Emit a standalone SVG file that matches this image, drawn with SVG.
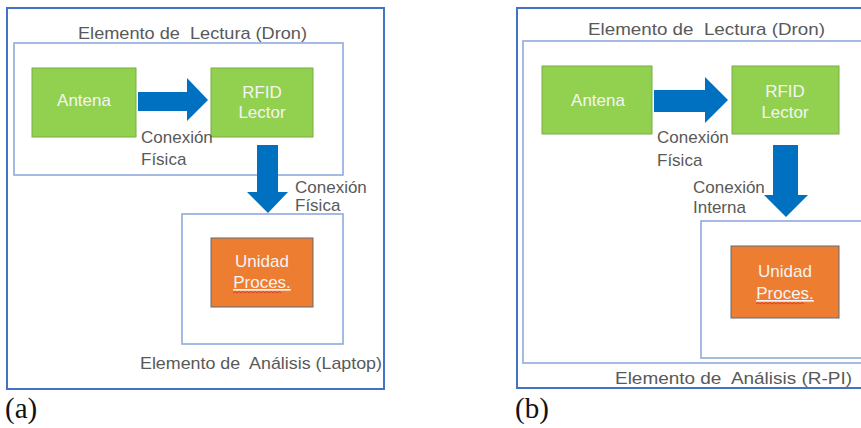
<svg xmlns="http://www.w3.org/2000/svg" width="861" height="428" viewBox="0 0 861 428">
  <style>
    .frame { fill: #ffffff; stroke: #4472C4; stroke-width: 2; }
    .group { fill: #ffffff; stroke: #8FAADC; stroke-width: 1.6; }
    .green { fill: #92D050; stroke: #79AE45; stroke-width: 1; }
    .orange { fill: #ED7D31; stroke: #5F6B7A; stroke-width: 1; }
    .lbl { font-family: "Liberation Sans", "Noto Sans", sans-serif; font-size: 17px; fill: #595959; }
    .in { font-family: "Liberation Sans", "Noto Sans", sans-serif; font-size: 17px; fill: #F4F4F4; text-anchor: middle; }
    .cap { font-family: "Liberation Serif", "DejaVu Serif", serif; font-size: 29px; fill: #111111; }
    .arrow { fill: #0070C0; }
    .wavy { fill: none; stroke: #E03030; stroke-width: 0.9; }
  </style>

  <!-- Panel (a): reader on the drone, analysis on a laptop -->
  <g id="panel-a">
    <rect class="frame" x="7" y="8" width="377" height="381"/>
    <g id="a-dron">
      <rect class="group" x="14" y="43" width="329" height="132"/>
      <text class="lbl" x="78" y="39" textLength="229" lengthAdjust="spacingAndGlyphs">Elemento de&#160; Lectura (Dron)</text>
    </g>
    <g id="a-antena">
      <rect class="green" x="32" y="68" width="104" height="69"/>
      <text class="in" x="84" y="106">Antena</text>
    </g>
    <g id="a-rfid">
      <rect class="green" x="211" y="68" width="102" height="69"/>
      <text class="in" x="262" y="98">RFID</text>
      <text class="in" x="262" y="118">Lector</text>
    </g>
    <g id="a-laptop">
      <rect class="group" x="182" y="214" width="161" height="130"/>
      <text class="lbl" x="140" y="369" textLength="242" lengthAdjust="spacingAndGlyphs">Elemento de&#160; Análisis (Laptop)</text>
    </g>
    <g id="a-unidad">
      <rect class="orange" x="211" y="238" width="102" height="69"/>
      <text class="in" x="262" y="267">Unidad</text>
      <text class="in" x="262" y="288" text-decoration="underline">Proces.</text>
      <path class="wavy" d="M233 293 l2 -1.5 l2 1.5 l2 -1.5 l2 1.5 l2 -1.5 l2 1.5 l2 -1.5 l2 1.5 l2 -1.5 l2 1.5 l2 -1.5 l2 1.5 l2 -1.5 l2 1.5 l2 -1.5 l2 1.5 l2 -1.5 l2 1.5 l2 -1.5 l2 1.5 l2 -1.5 l2 1.5 l2 -1.5 l2 1.5"/>
    </g>
    <g id="a-connectors">
      <path class="arrow" d="M138 92 H187 V78 L208 100 L187 121 V111 H138 Z"/>
      <text class="lbl" x="141" y="143">Conexión</text>
      <text class="lbl" x="141" y="165">Física</text>
      <path class="arrow" d="M257 145 H278 V192 H288 L268 213 L247 192 H257 Z"/>
      <text class="lbl" x="295" y="193">Conexión</text>
      <text class="lbl" x="295" y="211">Física</text>
    </g>
    <text class="cap" x="5" y="418">(a)</text>
  </g>

  <!-- Panel (b): reader and analysis both on the drone -->
  <g id="panel-b">
    <rect class="frame" x="517" y="8" width="360" height="380"/>
    <g id="b-dron">
      <rect class="group" x="523" y="41" width="360" height="322"/>
      <text class="lbl" x="588" y="35" textLength="237" lengthAdjust="spacingAndGlyphs">Elemento de&#160; Lectura (Dron)</text>
    </g>
    <g id="b-antena">
      <rect class="green" x="542" y="66" width="110" height="68"/>
      <text class="in" x="598" y="106">Antena</text>
    </g>
    <g id="b-rfid">
      <rect class="green" x="732" y="66" width="107" height="68"/>
      <text class="in" x="785" y="97">RFID</text>
      <text class="in" x="785" y="118">Lector</text>
    </g>
    <g id="b-rpi">
      <rect class="group" x="701" y="221" width="180" height="137"/>
      <text class="lbl" x="615" y="384" textLength="237" lengthAdjust="spacingAndGlyphs">Elemento de&#160; Análisis (R-PI)</text>
    </g>
    <g id="b-unidad">
      <rect class="orange" x="731" y="246" width="108" height="72"/>
      <text class="in" x="785" y="277">Unidad</text>
      <text class="in" x="785" y="299" text-decoration="underline">Proces.</text>
      <path class="wavy" d="M756 304 l2 -1.5 l2 1.5 l2 -1.5 l2 1.5 l2 -1.5 l2 1.5 l2 -1.5 l2 1.5 l2 -1.5 l2 1.5 l2 -1.5 l2 1.5 l2 -1.5 l2 1.5 l2 -1.5 l2 1.5 l2 -1.5 l2 1.5 l2 -1.5 l2 1.5 l2 -1.5 l2 1.5 l2 -1.5 l2 1.5"/>
    </g>
    <g id="b-connectors">
      <path class="arrow" d="M654 90 H705 V77 L728 100 L705 123 V112 H654 Z"/>
      <text class="lbl" x="657" y="143">Conexión</text>
      <text class="lbl" x="657" y="166">Física</text>
      <path class="arrow" d="M773 145 H798 V195 H808 L786 217 L764 195 H773 Z"/>
      <text class="lbl" x="693" y="193">Conexión</text>
      <text class="lbl" x="693" y="213">Interna</text>
    </g>
    <text class="cap" x="515" y="418">(b)</text>
  </g>
</svg>
